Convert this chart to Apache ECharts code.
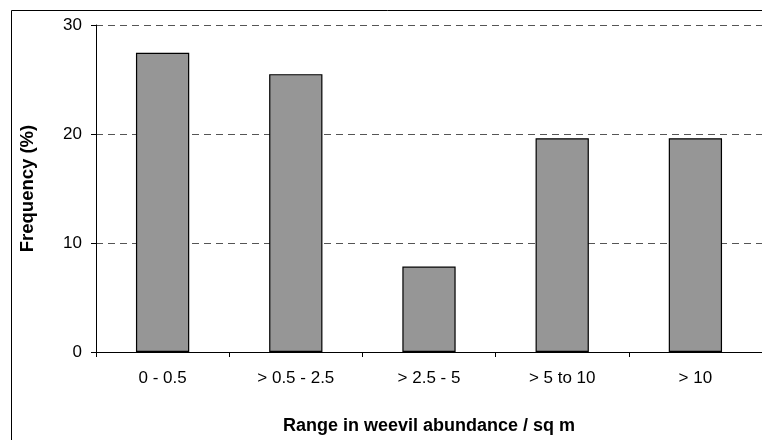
<!DOCTYPE html>
<html>
<head>
<meta charset="utf-8">
<script src="https://cdn.jsdelivr.net/npm/echarts@6/dist/echarts.min.js"></script>
<style>
  html, body { margin: 0; padding: 0; background: #fff; }
  #chart { width: 762px; height: 440px; }
</style>
</head>
<body>
<div id="chart"></div>
<script>
// Abundance classes and share of sites in each (%)
const categories = ['0 - 0.5', '> 0.5 - 2.5', '> 2.5 - 5', '> 5 to 10', '> 10'];
const frequency = [27.45, 25.49, 7.84, 19.61, 19.61];
const yTicks = { min: 0, max: 30, interval: 10 };

const font = '"Liberation Sans", Arial, sans-serif';

const chart = echarts.init(document.getElementById('chart'), null, { renderer: 'canvas' });
chart.setOption({
  animation: false,
  backgroundColor: '#ffffff',
  graphic: [{
    type: 'rect',
    shape: { x: 11.5, y: 10.5, width: 800, height: 500 },
    style: { fill: 'none', stroke: '#000', lineWidth: 1 },
    silent: true,
    z: -1
  }],
  grid: { left: 96, top: 25, right: 0, bottom: 88, containLabel: false },
  xAxis: {
    type: 'category',
    data: categories,
    boundaryGap: true,
    name: 'Range in weevil abundance / sq m',
    nameLocation: 'middle',
    nameGap: 65,
    nameTextStyle: { fontFamily: font, fontSize: 18, fontWeight: 'bold', color: '#000' },
    axisLine: { lineStyle: { color: '#000', width: 1 } },
    axisTick: { show: true, length: 5, lineStyle: { color: '#000' } },
    axisLabel: { fontFamily: font, fontSize: 17, color: '#000', margin: 18 },
    splitLine: { show: false }
  },
  yAxis: {
    type: 'value',
    min: yTicks.min,
    max: yTicks.max,
    interval: yTicks.interval,
    name: 'Frequency (%)',
    nameLocation: 'middle',
    nameGap: 59,
    nameTextStyle: { fontFamily: font, fontSize: 18.5, fontWeight: 'bold', color: '#000' },
    axisLine: { show: true, lineStyle: { color: '#000', width: 1 } },
    axisTick: { show: true, length: 5, lineStyle: { color: '#000' } },
    axisLabel: { fontFamily: font, fontSize: 17, color: '#000', margin: 14 },
    splitLine: { show: true, lineStyle: { color: '#555', type: [7, 5], width: 1 } }
  },
  series: [{
    type: 'bar',
    data: frequency,
    barWidth: '40%',
    itemStyle: { color: '#969696', borderColor: '#000', borderWidth: 1.2 }
  }]
});
</script>
</body>
</html>
